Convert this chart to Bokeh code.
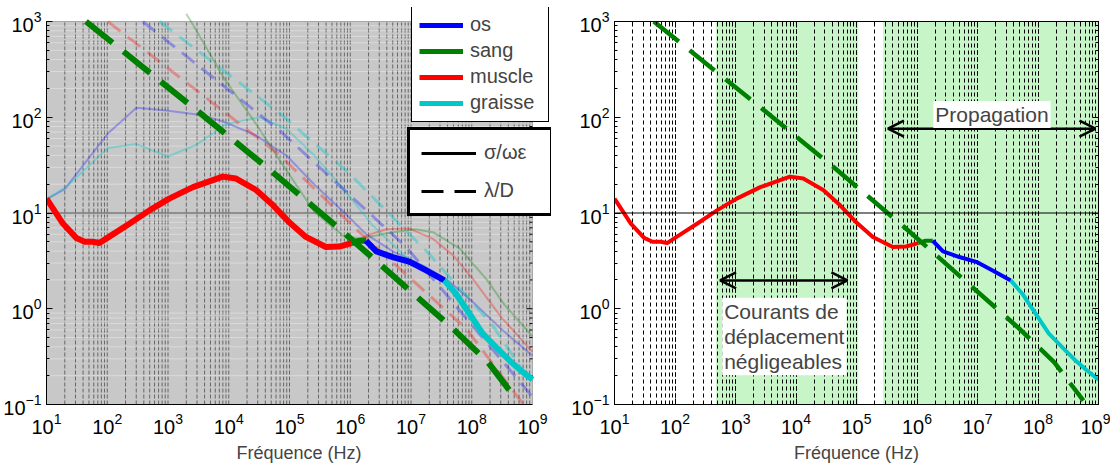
import numpy as np
from bokeh.plotting import figure
from bokeh.layouts import row
from bokeh.models import (LogAxis, LogTicker, Span, BoxAnnotation, Arrow, OpenHead,
                          Label, Legend, LegendItem, CustomJSTickFormatter)
from bokeh.embed import file_html
from bokeh.resources import INLINE

FONT = "Liberation Sans"

# ---- data (log10 of frequency, log10 of value) ----
# bold composite sigma/(omega*eps) curve, by tissue
muscle_bold_lf = [1.0, 1.27, 1.49, 1.63, 1.76, 1.87, 2.04, 2.37, 2.70, 3.02, 3.41, 3.68, 3.90,
                  4.12, 4.45, 4.73, 5.0, 5.27, 5.60, 5.82, 6.02]
muscle_bold_lv = [1.15, 0.89, 0.74, 0.70, 0.70, 0.686, 0.756, 0.89, 1.03, 1.15, 1.27, 1.33, 1.38,
                  1.36, 1.24, 1.08, 0.90, 0.75, 0.645, 0.65, 0.686]
sang_bold_lf = [6.02, 6.14, 6.26]
sang_bold_lv = [0.686, 0.71, 0.71]
os_bold_lf = [6.26, 6.43, 6.70, 6.98, 7.25, 7.55]
os_bold_lv = [0.71, 0.60, 0.54, 0.49, 0.40, 0.296]
graisse_bold_lf = [7.55, 7.74, 7.96, 8.18, 8.46, 8.62, 8.80, 9.0]
graisse_bold_lv = [0.296, 0.157, -0.05, -0.26, -0.44, -0.54, -0.64, -0.74]

# faint sigma/(omega*eps) curves (left panel)
os_faint_lf = [1.02, 1.30, 2.01, 2.48, 2.97, 3.57, 3.93, 4.45, 4.95, 5.42, 5.89, 6.26, 6.70,
               7.20, 7.60, 8.00, 8.50, 9.00]
os_faint_lv = [1.15, 1.25, 1.83, 2.10, 2.07, 2.02, 1.95, 1.81, 1.60, 1.29, 1.01, 0.78, 0.60,
               0.45, 0.30, 0.08, -0.22, -0.49]
graisse_faint_lf = [1.02, 1.32, 2.01, 2.48, 3.00, 3.46, 3.96, 4.51, 4.95, 5.41, 5.89, 6.37,
                    6.90, 7.55, 7.96, 8.46, 9.0]
graisse_faint_lv = [1.15, 1.27, 1.68, 1.72, 1.59, 1.71, 1.93, 2.00, 1.88, 1.60, 1.25, 0.87,
                    0.55, 0.30, -0.05, -0.44, -0.74]
sang_faint_lf = [3.30, 3.38, 3.93, 4.45, 4.84, 5.41, 5.89, 6.15, 6.70, 7.08, 7.36, 7.80, 8.24,
                 8.54, 9.00]
sang_faint_lv = [3.08, 3.00, 2.40, 1.93, 1.55, 1.01, 0.76, 0.73, 0.80, 0.83, 0.80, 0.63, 0.31,
                 0.04, -0.29]
muscle_faint_lf = [6.02, 6.30, 6.59, 6.97, 7.36, 7.69, 8.02, 8.50, 9.00]
muscle_faint_lv = [0.69, 0.77, 0.83, 0.84, 0.73, 0.56, 0.31, -0.10, -0.45]

# lambda/D curves
sang_lam_lf = [1.65, 3.38, 4.62, 5.85, 7.66, 8.27, 8.75]
sang_lam_lv = [3.0, 2.12, 1.48, 0.82, -0.19, -0.56, -0.96]
muscle_lam_lf = [2.01, 4.81, 6.15, 7.91, 8.85]
muscle_lam_lv = [3.0, 1.62, 0.80, -0.21, -1.0]
os_lam_lf = [2.585, 4.84, 6.92, 9.0]
os_lam_lv = [3.0, 1.86, 0.645, -0.92]
graisse_lam_lf = [2.86, 4.84, 5.99, 7.30, 8.34, 9.0]
graisse_lam_lv = [3.0, 2.04, 1.41, 0.57, -0.17, -0.8]

# right panel regions (log10 f)
green_regions = [(2.68, 5.03), (5.44, 9.0)]
courants_arrow_lf = (2.745, 4.85)
courants_arrow_lv = 0.296
propag_arrow_lf = (5.52, 8.95)
propag_arrow_lv = 1.88
ref_level = 10

# axis extents (decades)
x_decades = list(range(1, 10))    # 10^1 .. 10^9
y_decades = list(range(-1, 4))    # 10^-1 .. 10^3
XMIN, XMAX = 10.0 ** x_decades[0], 10.0 ** x_decades[-1]
YMIN, YMAX = 10.0 ** y_decades[0], 10.0 ** y_decades[-1]

legend_names = ["os", "sang", "muscle", "graisse"]
C_OS, C_SANG, C_MUSCLE, C_GRAISSE = "#0000ff", "#008000", "#ff0000", "#00c8c8"


def P(a):
    return 10 ** np.asarray(a, dtype=float)


def style_axis(ax):
    ax.major_label_text_font = FONT
    ax.major_label_text_font_size = "20px"
    ax.major_label_text_color = "black"
    ax.axis_line_color = "black"
    ax.major_tick_in = 6
    ax.major_tick_out = 0
    ax.minor_tick_in = 3
    ax.minor_tick_out = 0
    ax.major_label_standoff = 5


def style_xlabel(p):
    p.xaxis.axis_label = "Fréquence (Hz)"
    p.xaxis.axis_label_text_font = FONT
    p.xaxis.axis_label_text_font_size = "18px"
    p.xaxis.axis_label_text_font_style = "normal"
    p.xaxis.axis_label_standoff = 6
    p.xaxis.major_label_standoff = 8


def no_align(p):
    try:
        p.frame_align = False
    except Exception:
        pass


# geometry (pixels): plot boxes are 486 x 383, 60.75 px per x-decade, 95.75 px per y-decade
TOP = 21
PX_DEC_X = 486 / 8
PX_DEC_Y = 383 / 4
EXT_RIGHT = 19   # left frame extended to the right so that the legends can overhang
EXT_TOP = 14     # and upwards

# ---------------- left panel ----------------
x_ext = 10 ** (x_decades[-1] + EXT_RIGHT / PX_DEC_X)
y_ext = 10 ** (y_decades[-1] + EXT_TOP / PX_DEC_Y)
pl = figure(frame_width=486 + EXT_RIGHT, frame_height=383 + EXT_TOP, x_axis_type="log",
            y_axis_type="log", x_range=(XMIN, x_ext), y_range=(YMIN, y_ext),
            output_backend="svg", toolbar_location=None, min_border_left=46,
            min_border_right=6, min_border_top=TOP - EXT_TOP, min_border_bottom=40,
            background_fill_color="white", border_fill_color="white", outline_line_color=None)
no_align(pl)
pl.xaxis.ticker = LogTicker(num_minor_ticks=10)
pl.yaxis.ticker = LogTicker(num_minor_ticks=10)
style_axis(pl.xaxis[0])
style_axis(pl.yaxis[0])
pl.xaxis.bounds = (XMIN, XMAX)
pl.yaxis.bounds = (YMIN, YMAX)
pl.xaxis.minor_tick_in = 0
pl.xaxis.major_tick_in = 0
style_xlabel(pl)
pl.xgrid.grid_line_color = None
pl.ygrid.grid_line_color = None

pl.add_layout(BoxAnnotation(left=XMIN, right=XMAX, bottom=YMIN, top=YMAX, fill_color="#c8c8c8",
                            fill_alpha=1, line_color="#222222", line_width=1, level="image"))
gx = [m * 10.0 ** k for k in x_decades[:-1] for m in range(1, 10)] + [XMAX]
gy = [m * 10.0 ** k for k in y_decades[:-1] for m in range(2, 10)]
pl.segment(x0=gx[1:-1], y0=[YMIN] * (len(gx) - 2), x1=gx[1:-1], y1=[YMAX] * (len(gx) - 2),
           line_color="#666666", line_width=1, line_dash="4 2", level="underlay")
pl.segment(x0=[XMIN] * len(gy), y0=gy, x1=[XMAX] * len(gy), y1=gy,
           line_color="white", line_alpha=0.35, line_width=1, level="underlay")
pl.segment(x0=[XMIN], y0=[ref_level], x1=[XMAX], y1=[ref_level],
           line_color="#555555", line_width=1, level="underlay")
# right-edge ticks of the left box
ty_major = [10.0 ** k for k in y_decades[1:-1]]
ty_minor = [m * 10.0 ** k for k in y_decades[:-1] for m in range(2, 10)]
pl.ray(x=[XMAX] * len(ty_major), y=ty_major, length=6, length_units="screen", angle=np.pi,
       line_color="black", line_width=1)
pl.ray(x=[XMAX] * len(ty_minor), y=ty_minor, length=3, length_units="screen", angle=np.pi,
       line_color="black", line_width=1)

faint = [(os_faint_lf, os_faint_lv, C_OS, 0.28), (graisse_faint_lf, graisse_faint_lv, C_GRAISSE, 0.35),
         (sang_faint_lf, sang_faint_lv, C_SANG, 0.3), (muscle_faint_lf, muscle_faint_lv, C_MUSCLE, 0.3)]
for lf, lv, c, a in faint:
    pl.line(P(lf), P(lv), line_color=c, line_alpha=a, line_width=2, line_join="round")
lam = [(muscle_lam_lf, muscle_lam_lv, C_MUSCLE, 0.3), (os_lam_lf, os_lam_lv, C_OS, 0.3),
       (graisse_lam_lf, graisse_lam_lv, C_GRAISSE, 0.38)]
for lf, lv, c, a in lam:
    pl.line(P(lf), P(lv), line_color=c, line_alpha=a, line_width=3, line_dash="16 9")
pl.line(P(sang_lam_lf), P(sang_lam_lv), line_color=C_SANG, line_width=6, line_dash="34 14")

bold = [(muscle_bold_lf, muscle_bold_lv, C_MUSCLE), (sang_bold_lf, sang_bold_lv, C_SANG),
        (os_bold_lf, os_bold_lv, C_OS), (graisse_bold_lf, graisse_bold_lv, C_GRAISSE)]
for lf, lv, c in bold:
    pl.line(P(lf), P(lv), line_color=c, line_width=6, line_join="round")

# legends (single off-screen point per proxy renderer, so nothing is drawn in the plot)
leg_r = {}
for name, c in zip(legend_names, [C_OS, C_SANG, C_MUSCLE, C_GRAISSE]):
    leg_r[name] = pl.line(x=[1e-6], y=[1e-6], line_color=c, line_width=5)
leg1 = Legend(items=[LegendItem(label=n, renderers=[leg_r[n]]) for n in legend_names],
              location=(365, 282), margin=0, padding=7, spacing=3, glyph_width=44,
              glyph_height=20, label_standoff=7, label_width=71, label_text_font=FONT,
              label_text_font_size="20px", border_line_color="black", border_line_width=1,
              border_line_alpha=1, background_fill_color="white", background_fill_alpha=1)
r_solid = pl.line(x=[1e-6], y=[1e-6], line_color="black", line_width=3)
r_dash = pl.line(x=[1e-6], y=[1e-6], line_color="black", line_width=3, line_dash="22 11")
leg2 = Legend(items=[LegendItem(label="σ/ωε", renderers=[r_solid]),
                     LegendItem(label="λ/D", renderers=[r_dash])],
              location=(361, 188), margin=0, padding=11, spacing=15, glyph_width=55,
              glyph_height=20, label_standoff=8, label_width=55, label_text_font=FONT,
              label_text_font_size="20px", border_line_color="black", border_line_width=3,
              border_line_alpha=1, background_fill_color="white", background_fill_alpha=1)
pl.add_layout(leg1, "center")
pl.add_layout(leg2, "center")

# ---------------- right panel ----------------
pr = figure(frame_width=484, frame_height=383, x_axis_type="log", y_axis_type="log",
            x_range=(XMIN, XMAX), y_range=(YMIN, YMAX), output_backend="svg",
            toolbar_location=None, min_border_left=57, min_border_right=12,
            min_border_top=TOP, min_border_bottom=40, background_fill_color="white",
            border_fill_color="white", outline_line_color="black")
no_align(pr)
pr.xaxis.ticker = LogTicker(num_minor_ticks=10)
pr.yaxis.ticker = LogTicker(num_minor_ticks=10)
style_axis(pr.xaxis[0])
style_axis(pr.yaxis[0])
style_xlabel(pr)
for loc in ("right", "above"):
    ax = LogAxis(ticker=LogTicker(num_minor_ticks=10),
                 formatter=CustomJSTickFormatter(code="return ''"),
                 major_tick_in=6, major_tick_out=0, minor_tick_in=3, minor_tick_out=0,
                 axis_line_color="black", major_label_standoff=0)
    pr.add_layout(ax, loc)

for a, b in green_regions:
    pr.add_layout(BoxAnnotation(left=10 ** a, right=10 ** b, fill_color="#c8f5c8",
                                fill_alpha=1, line_color=None, level="image"))
pr.xgrid.grid_line_color = "black"
pr.xgrid.grid_line_dash = "4 3"
pr.xgrid.minor_grid_line_color = "black"
pr.xgrid.minor_grid_line_dash = "4 3"
pr.ygrid.grid_line_color = None
pr.add_layout(Span(location=ref_level, dimension="width", line_color="black", line_width=1))

pr.line(P(sang_lam_lf), P(sang_lam_lv), line_color=C_SANG, line_width=4.5, line_dash="32 14")
for lf, lv, c in bold:
    pr.line(P(lf), P(lv), line_color=c, line_width=4, line_join="round")

for (x0, x1), yv in [(courants_arrow_lf, courants_arrow_lv), (propag_arrow_lf, propag_arrow_lv)]:
    pr.add_layout(Arrow(x_start=10 ** x0, x_end=10 ** x1, y_start=10 ** yv, y_end=10 ** yv,
                        line_color="black", line_width=2.5,
                        start=OpenHead(size=16, line_width=2.5, line_color="black"),
                        end=OpenHead(size=16, line_width=2.5, line_color="black")))

pr.add_layout(Label(x=10 ** 2.78, y=10 ** 0.115, text="Courants de\ndéplacement\nnégligeables",
                    text_font=FONT, text_font_size="21px", text_align="left",
                    text_baseline="top", text_line_height=1.1,
                    background_fill_color="white", background_fill_alpha=1, padding=2))
pr.add_layout(Label(x=10 ** 6.27, y=10 ** 2.17, text="Propagation",
                    text_font=FONT, text_font_size="21px", text_align="left",
                    text_baseline="top", background_fill_color="white",
                    background_fill_alpha=1, padding=2))

layout = row(pl, pr)
open("out.html", "w").write(file_html(layout, INLINE))
